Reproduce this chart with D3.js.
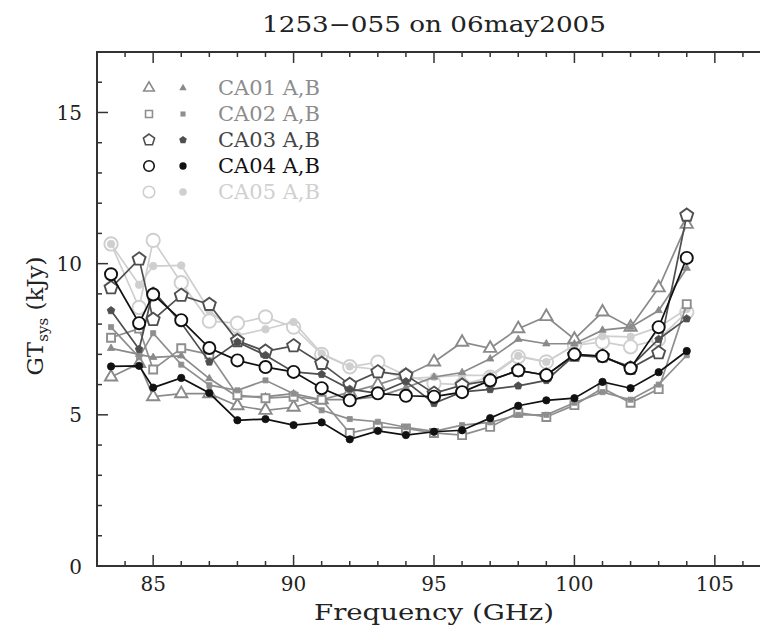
<!DOCTYPE html>
<html>
<head>
<meta charset="UTF-8">
<title>1253-055 on 06may2005</title>
<style>
  body { margin: 0; background: #fff; }
  svg { display: block; }
</style>
</head>
<body>
<script src="https://cdn.jsdelivr.net/npm/d3@7"></script>
<script>
// frequencies of the measured channels (GHz)
var freqs = [83.5, 84.5, 85, 86, 87, 88, 89, 90, 91, 92, 93, 94, 95, 96, 97, 98, 99, 100, 101, 102, 103, 104];

// GTsys (kJy), A and B polarisation per antenna
var ca01A = [6.25, 6.7, 5.6, 5.7, 5.7, 5.3, 5.15, 5.25, 5.5, 5.75, 6.0, 6.3, 6.75, 7.4, 7.2, 7.85, 8.25, 7.5, 8.4, 7.9, 9.2, 11.3];
var ca01B = [7.2, 7.0, 6.9, 6.95, 6.2, 5.6, 5.6, 5.7, 5.5, 5.5, 5.6, 5.9, 6.25, 6.4, 6.85, 7.5, 7.35, 7.35, 7.8, 7.9, 8.45, 9.85];
var ca02A = [7.55, 7.85, 6.5, 7.2, 7.0, 5.65, 5.55, 5.6, 5.5, 4.4, 4.6, 4.55, 4.4, 4.33, 4.6, 5.07, 4.93, 5.32, 5.88, 5.4, 5.85, 8.66];
var ca02B = [7.9, 6.9, 7.7, 6.66, 5.98, 5.81, 6.14, 5.7, 5.15, 4.86, 4.77, 4.59, 4.45, 4.66, 4.75, 5.0, 5.0, 5.4, 5.75, 5.5, 6.0, 6.97];
var ca03A = [9.2, 10.15, 8.15, 8.95, 8.65, 7.45, 7.1, 7.28, 6.7, 6.0, 6.42, 6.31, 5.71, 5.98, 6.14, 6.47, 6.31, 6.97, 6.94, 6.54, 7.05, 11.6];
var ca03B = [8.45, 7.17, 9.1, 8.04, 6.75, 7.41, 6.97, 6.42, 6.34, 5.85, 5.71, 6.1, 5.38, 5.76, 5.84, 5.96, 6.14, 6.97, 6.9, 6.6, 7.5, 8.18];
var ca04A = [9.65, 8.03, 8.98, 8.13, 7.21, 6.8, 6.58, 6.42, 5.88, 5.48, 5.71, 5.63, 5.6, 5.75, 6.14, 6.47, 6.31, 7.0, 6.94, 6.54, 7.9, 10.19];
var ca04B = [6.6, 6.62, 5.9, 6.22, 5.72, 4.82, 4.86, 4.66, 4.75, 4.19, 4.47, 4.33, 4.44, 4.49, 4.89, 5.3, 5.48, 5.55, 6.09, 5.88, 6.41, 7.11];
var ca05A = [10.65, 8.55, 10.77, 9.37, 8.1, 8.03, 8.24, 7.9, 7.0, 6.59, 6.74, 6.3, 6.04, 6.0, 6.25, 6.92, 6.75, 7.3, 7.41, 7.25, 7.5, 8.4];
var ca05B = [10.65, 9.3, 9.92, 9.94, 8.45, 7.63, 7.83, 8.07, 7.03, 6.6, 6.5, 6.2, 6.25, 6.31, 6.3, 6.95, 6.75, 7.3, 7.6, 7.58, 7.9, 8.5];

var antennas = ["CA01", "CA02", "CA03", "CA04", "CA05"];
var xTicks = [85, 90, 95, 100, 105];
var yTicks = [0, 5, 10, 15];

var W = 760, H = 626;
var pLeft = 97, pRight = 771, pTop = 52, pBottom = 566;

// pentagon is not among d3's symbols
var symbolPentagon = {
  draw: function(ctx, size) {
    var r = Math.sqrt(size / 2.3776);
    for (var i = 0; i < 5; i++) {
      var a = -Math.PI / 2 + i * 2 * Math.PI / 5;
      if (i === 0) ctx.moveTo(r * Math.cos(a), r * Math.sin(a));
      else ctx.lineTo(r * Math.cos(a), r * Math.sin(a));
    }
    ctx.closePath();
  }
};

var styles = {
  CA01: { color: "#8a8a8a", text: "#8c8c8c", shape: d3.symbolTriangle, openSize: 65, fillSize: 24 },
  CA02: { color: "#8e8e8e", text: "#8c8c8c", shape: d3.symbolSquare, openSize: 64, fillSize: 26 },
  CA03: { color: "#4f4f4f", text: "#454545", shape: symbolPentagon, openSize: 110, fillSize: 38 },
  CA04: { color: "#111111", text: "#111111", shape: d3.symbolCircle, openSize: 115, fillSize: 42 },
  CA05: { color: "#cfcfcf", text: "#d0d0d0", shape: d3.symbolCircle, openSize: 140, fillSize: 45 }
};

var series = [
  { ant: "CA05", pol: "A", values: ca05A }, { ant: "CA05", pol: "B", values: ca05B },
  { ant: "CA01", pol: "A", values: ca01A }, { ant: "CA01", pol: "B", values: ca01B },
  { ant: "CA02", pol: "A", values: ca02A }, { ant: "CA02", pol: "B", values: ca02B },
  { ant: "CA03", pol: "A", values: ca03A }, { ant: "CA03", pol: "B", values: ca03B },
  { ant: "CA04", pol: "A", values: ca04A }, { ant: "CA04", pol: "B", values: ca04B }
];

var x = d3.scaleLinear().domain([83, 107]).range([pLeft, pRight]);
var y = d3.scaleLinear().domain([0, 17]).range([pBottom, pTop]);

var svg = d3.select("body").append("svg")
  .attr("width", W)
  .attr("height", H);

var axisColor = "#333";
var serif = "'DejaVu Serif', 'Liberation Serif', serif";

// ticks on all four sides, pointing inward
var frame = svg.append("g");
d3.range(83, 108).forEach(function(v) {
  var len = v % 5 === 0 ? 11 : 5;
  frame.append("line").attr("x1", x(v)).attr("x2", x(v)).attr("y1", pBottom).attr("y2", pBottom - len)
    .attr("stroke", axisColor).attr("stroke-width", 1.5);
  frame.append("line").attr("x1", x(v)).attr("x2", x(v)).attr("y1", pTop).attr("y2", pTop + len)
    .attr("stroke", axisColor).attr("stroke-width", 1.5);
});
d3.range(0, 18).forEach(function(v) {
  var len = v % 5 === 0 ? 11 : 5;
  frame.append("line").attr("x1", pLeft).attr("x2", pLeft + len).attr("y1", y(v)).attr("y2", y(v))
    .attr("stroke", axisColor).attr("stroke-width", 1.5);
  frame.append("line").attr("x1", pRight).attr("x2", pRight - len).attr("y1", y(v)).attr("y2", y(v))
    .attr("stroke", axisColor).attr("stroke-width", 1.5);
});
frame.append("rect")
  .attr("x", pLeft).attr("y", pTop)
  .attr("width", pRight - pLeft).attr("height", pBottom - pTop)
  .attr("fill", "none").attr("stroke", axisColor).attr("stroke-width", 2);

// tick labels
svg.append("g").selectAll("text")
  .data(xTicks)
  .enter().append("text")
  .attr("x", function(d) { return x(d); })
  .attr("y", 591)
  .attr("text-anchor", "middle")
  .attr("font-family", serif)
  .attr("font-size", 20)
  .attr("fill", "#222")
  .text(function(d) { return d; });

svg.append("g").selectAll("text")
  .data(yTicks)
  .enter().append("text")
  .attr("x", 82)
  .attr("y", function(d) { return y(d) + 7.5; })
  .attr("text-anchor", "end")
  .attr("font-family", serif)
  .attr("font-size", 20)
  .attr("fill", "#222")
  .text(function(d) { return d; });

// titles
svg.append("text")
  .attr("x", 434).attr("y", 32)
  .attr("text-anchor", "middle")
  .attr("font-family", serif)
  .attr("font-size", 22)
  .attr("fill", "#222")
  .attr("textLength", 344)
  .attr("lengthAdjust", "spacingAndGlyphs")
  .text("1253\u2212055 on 06may2005");

svg.append("text")
  .attr("x", 434).attr("y", 620)
  .attr("text-anchor", "middle")
  .attr("font-family", serif)
  .attr("font-size", 22)
  .attr("fill", "#222")
  .attr("textLength", 240)
  .attr("lengthAdjust", "spacingAndGlyphs")
  .text("Frequency (GHz)");

var ylab = svg.append("text")
  .attr("transform", "translate(43,316) rotate(-90)")
  .attr("text-anchor", "middle")
  .attr("font-family", serif)
  .attr("font-size", 23)
  .attr("fill", "#222");
ylab.append("tspan").text("GT");
ylab.append("tspan").attr("font-size", 15).attr("dy", 5).text("sys");
ylab.append("tspan").attr("dy", -5).text(" (kJy)");

// data
var line = d3.line()
  .x(function(d, i) { return x(freqs[i]); })
  .y(function(d) { return y(d); });

var symOpen = d3.symbol(), symFill = d3.symbol();

var plot = svg.append("g");
series.forEach(function(s) {
  var st = styles[s.ant];
  var g = plot.append("g");
  g.append("path")
    .datum(s.values)
    .attr("d", line)
    .attr("fill", "none")
    .attr("stroke", st.color)
    .attr("stroke-width", 1.7);
  g.selectAll("path.mk")
    .data(s.values)
    .enter().append("path")
    .attr("class", "mk")
    .attr("transform", function(d, i) { return "translate(" + x(freqs[i]) + "," + y(d) + ")"; })
    .attr("d", s.pol === "A"
      ? symOpen.type(st.shape).size(st.openSize)()
      : symFill.type(st.shape).size(st.fillSize)())
    .attr("fill", s.pol === "A" ? "#fff" : st.color)
    .attr("stroke", st.color)
    .attr("stroke-width", s.pol === "A" ? 1.9 : 0.8);
});

// legend
var legend = svg.append("g");
antennas.forEach(function(a, i) {
  var st = styles[a];
  var cy = 88 + i * 26;
  legend.append("path")
    .attr("transform", "translate(149," + cy + ")")
    .attr("d", d3.symbol().type(st.shape).size(st.openSize * 0.75)())
    .attr("fill", "#fff").attr("stroke", st.color).attr("stroke-width", 1.6);
  legend.append("path")
    .attr("transform", "translate(183," + cy + ")")
    .attr("d", d3.symbol().type(st.shape).size(st.fillSize)())
    .attr("fill", st.color);
  legend.append("text")
    .attr("x", 218).attr("y", cy + 7)
    .attr("font-family", serif)
    .attr("font-size", 20)
    .attr("fill", st.text)
    .attr("textLength", 102)
    .attr("lengthAdjust", "spacingAndGlyphs")
    .text(a + " A,B");
});
</script>
</body>
</html>
